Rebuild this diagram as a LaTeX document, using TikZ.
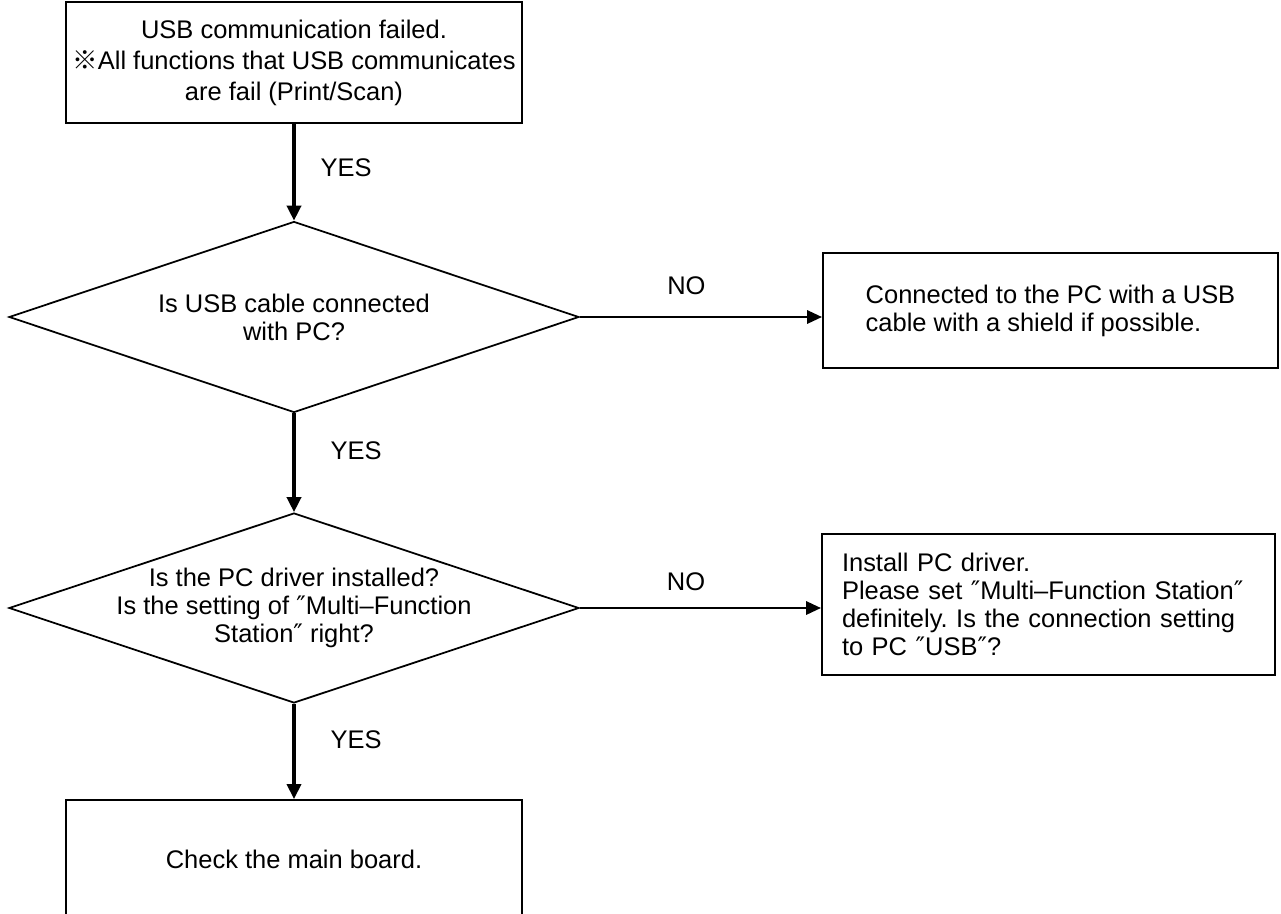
\documentclass[tikz,border=0pt]{standalone}
\usepackage{fontspec}
\setmainfont{Liberation Sans}
\newfontfamily\cjk{Noto Sans CJK JP}
\newfontfamily\sym{DejaVu Sans}
\usetikzlibrary{shapes.geometric,arrows.meta}
\newlength\px
\setlength\px{0.02cm}
\newcommand\dq{{\sym\char"2033}}
\frenchspacing

\begin{document}
\begin{tikzpicture}[x=0.02cm, y=-0.02cm,
    font=\fontsize{14.5}{16}\selectfont,
    box/.style={draw, line width=1.1pt, rectangle, inner sep=0pt},
    ask/.style={draw, line width=1pt, diamond, shape aspect=3,
                inner xsep=-40\px, inner ysep=-10\px, align=center},
    down/.style={line width=1.9pt, -{Triangle[length=8.5pt, width=8pt]}},
    side/.style={line width=1.5pt, -{Triangle[length=8.5pt, width=7.5pt]}},
    lbl/.style={inner sep=0pt}]
    \useasboundingbox (0,0) rectangle (1281,913);

    % --- 1. Start: the fault ---
    \node[box, minimum width=456\px, minimum height=121\px, align=center,
          font=\fontsize{14.5}{17.6}\selectfont] (start) at (294,62.5)
        {USB communication failed.\\{\cjk ※}All functions that USB communicates\\are fail (Print/Scan)};

    % --- 2. First check: the cable ---
    \node[ask, minimum width=570\px, minimum height=191\px] (cable) at (294,317)
        {Is USB cable connected\\with PC?};
    \node[box, minimum width=455\px, minimum height=115\px, align=left]
        (shield) at (1050.5,310.5)
        {Connected to the PC with a USB\\cable with a shield if possible.};

    % --- 3. Second check: the driver ---
    \node[ask, minimum width=570\px, minimum height=190\px] (driver) at (294,608)
        {Is the PC driver installed?\\Is the setting of \dq Multi–Function\\Station\dq\ right?};
    \node[box, minimum width=453\px, minimum height=141\px, text width=413\px, align=left]
        (install) at (1048.5,604.5)
        {Install PC driver.\\Please set \dq Multi–Function Station\dq\\definitely. Is the connection setting\\to PC \dq USB\dq ?};

    % --- 4. Last step (box runs off the bottom) ---
    \node[box, minimum width=456\px, minimum height=118\px] (board) at (294,859)
        {Check the main board.};

    % --- 5. Connectors ---
    \draw[down] (start.south) -- (cable.north)
        node[lbl, pos=0.45, right=25\px] {YES};
    \draw[side] (cable.east) -- (cable.east -| shield.west)
        node[lbl, pos=0.44, above=21\px] {NO};
    \draw[down] (cable.south) -- (driver.north)
        node[lbl, pos=0.38, right=35\px] {YES};
    \draw[side] (driver.east) -- (driver.east -| install.west)
        node[lbl, pos=0.44, above=16\px] {NO};
    \draw[down] (driver.south) -- (board.north)
        node[lbl, pos=0.38, right=35\px] {YES};

\end{tikzpicture}
\end{document}
